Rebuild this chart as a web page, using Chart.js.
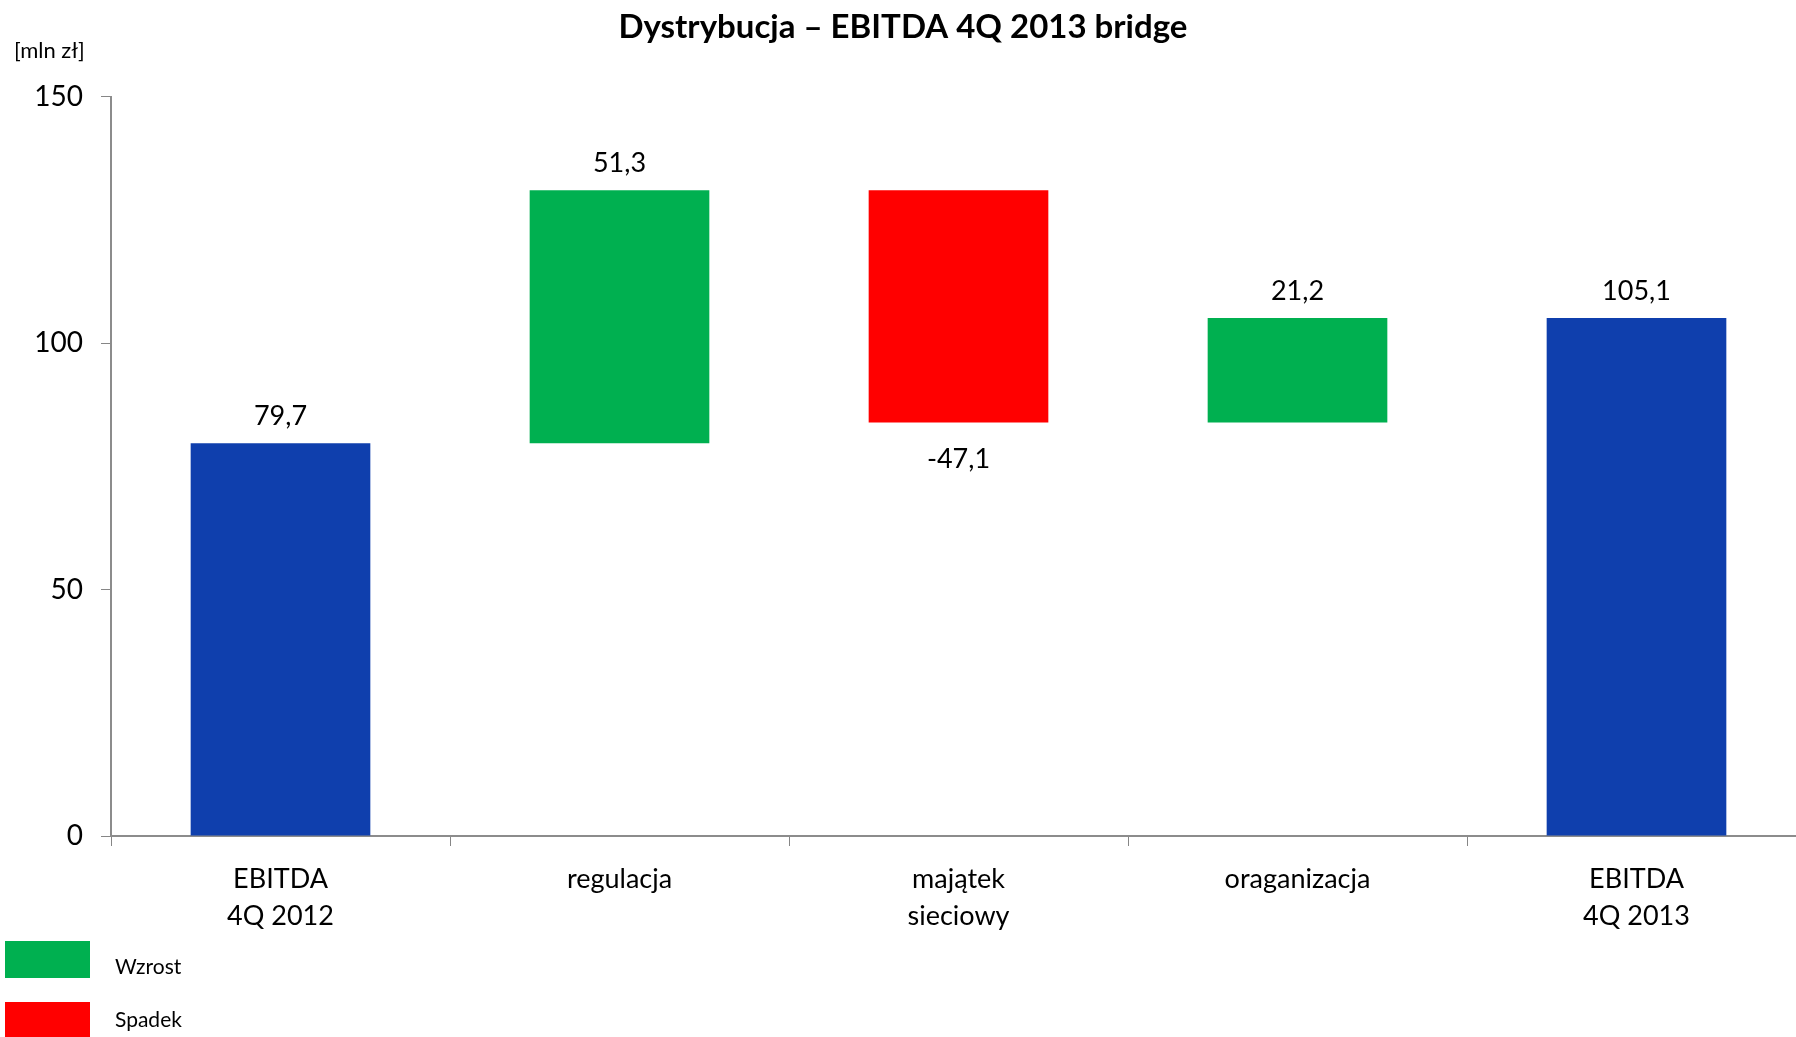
<!DOCTYPE html>
<html lang="pl">
<head>
<meta charset="utf-8">
<script src="https://cdn.jsdelivr.net/npm/chart.js@4"></script>
<style>
    html, body { margin: 0; padding: 0; background: #fff; overflow: hidden; }
    #wrap { position: relative; width: 1806px; height: 1037px; }
    #unit { position: absolute; left: 14px; top: 36px; font: 22px Lato, sans-serif; color: #000; }
    .leg { position: absolute; left: 5px; width: 85px; height: 37px; }
    .legTxt { position: absolute; left: 115px; font: 21px Lato, sans-serif; color: #000; }
</style>
</head>
<body>
<div id="wrap">
    <canvas id="graphic" width="1806" height="1037"></canvas>
    <div id="unit">[mln zł]</div>
    <div class="leg" style="top:941px;background:#00B050"></div>
    <div class="legTxt" style="top:953px">Wzrost</div>
    <div class="leg" style="top:1002px;background:#FF0000"></div>
    <div class="legTxt" style="top:1006px">Spadek</div>
</div>
<script>
const categories = [['EBITDA', '4Q 2012'], 'regulacja', ['majątek', 'sieciowy'], 'oraganizacja', ['EBITDA', '4Q 2013']];
const changes = [79.7, 51.3, -47.1, 21.2, 105.1];
const isTotal = [true, false, false, false, true];
const yTicks = [0, 50, 100, 150];

const blue = '#0F3FAD';
const green = '#00B050';
const red = '#FF0000';

// build the floating ranges of the bridge
let running = 0;
const ranges = changes.map((v, i) => {
    if (isTotal[i]) {
        running = v;
        return [0, v];
    }
    const start = running;
    running = Math.round((running + v) * 10) / 10;
    return [start, running];
});
const colors = changes.map((v, i) => isTotal[i] ? blue : (v >= 0 ? green : red));

const valueLabels = {
    id: 'valueLabels',
    afterDatasetsDraw(chart) {
        const ctx = chart.ctx;
        const meta = chart.getDatasetMeta(0);
        ctx.save();
        ctx.font = '27px Lato, sans-serif';
        ctx.fillStyle = '#000';
        ctx.textAlign = 'center';
        ctx.textBaseline = 'middle';
        meta.data.forEach((bar, i) => {
            const txt = changes[i].toFixed(1).replace('.', ',');
            const top = Math.min(bar.y, bar.base);
            const bottom = Math.max(bar.y, bar.base);
            if (changes[i] < 0) {
                ctx.fillText(txt, bar.x, bottom + 37);
            } else {
                ctx.fillText(txt, bar.x, top - 27);
            }
        });
        ctx.restore();
    }
};

const graphic = document.getElementById('graphic');
new Chart(graphic, {
    type: 'bar',
    data: {
        labels: categories,
        datasets: [{
            data: ranges,
            backgroundColor: colors,
            borderWidth: 0,
            barPercentage: 0.53,
            categoryPercentage: 1
        }]
    },
    options: {
        responsive: false,
        animation: false,
        layout: { padding: 0 },
        plugins: {
            legend: { display: false },
            tooltip: { enabled: false },
            title: {
                display: true,
                text: 'Dystrybucja – EBITDA 4Q 2013 bridge',
                color: '#000',
                font: { family: 'Lato', size: 33, weight: 'bold' },
                padding: { top: 8, bottom: 49 }
            }
        },
        scales: {
            x: {
                grid: { display: true, drawOnChartArea: false, drawTicks: true, tickLength: 10, color: '#868686' },
                border: { color: '#8C8C8C', width: 2 },
                ticks: { color: '#000', padding: 14, font: { family: 'Lato', size: 27, lineHeight: 1.4 }, maxRotation: 0 },
                afterFit: (s) => { s.height = 201; }
            },
            y: {
                min: 0,
                max: 150,
                afterBuildTicks: (s) => { s.ticks = yTicks.map((v) => ({ value: v })); },
                grid: { display: true, drawOnChartArea: false, drawTicks: true, tickLength: 10, color: '#868686' },
                border: { color: '#8C8C8C', width: 2 },
                ticks: { color: '#000', padding: 18, font: { family: 'Lato', size: 28 } },
                afterFit: (s) => { s.width = 111; }
            }
        }
    },
    plugins: [valueLabels]
});
</script>
</body>
</html>
